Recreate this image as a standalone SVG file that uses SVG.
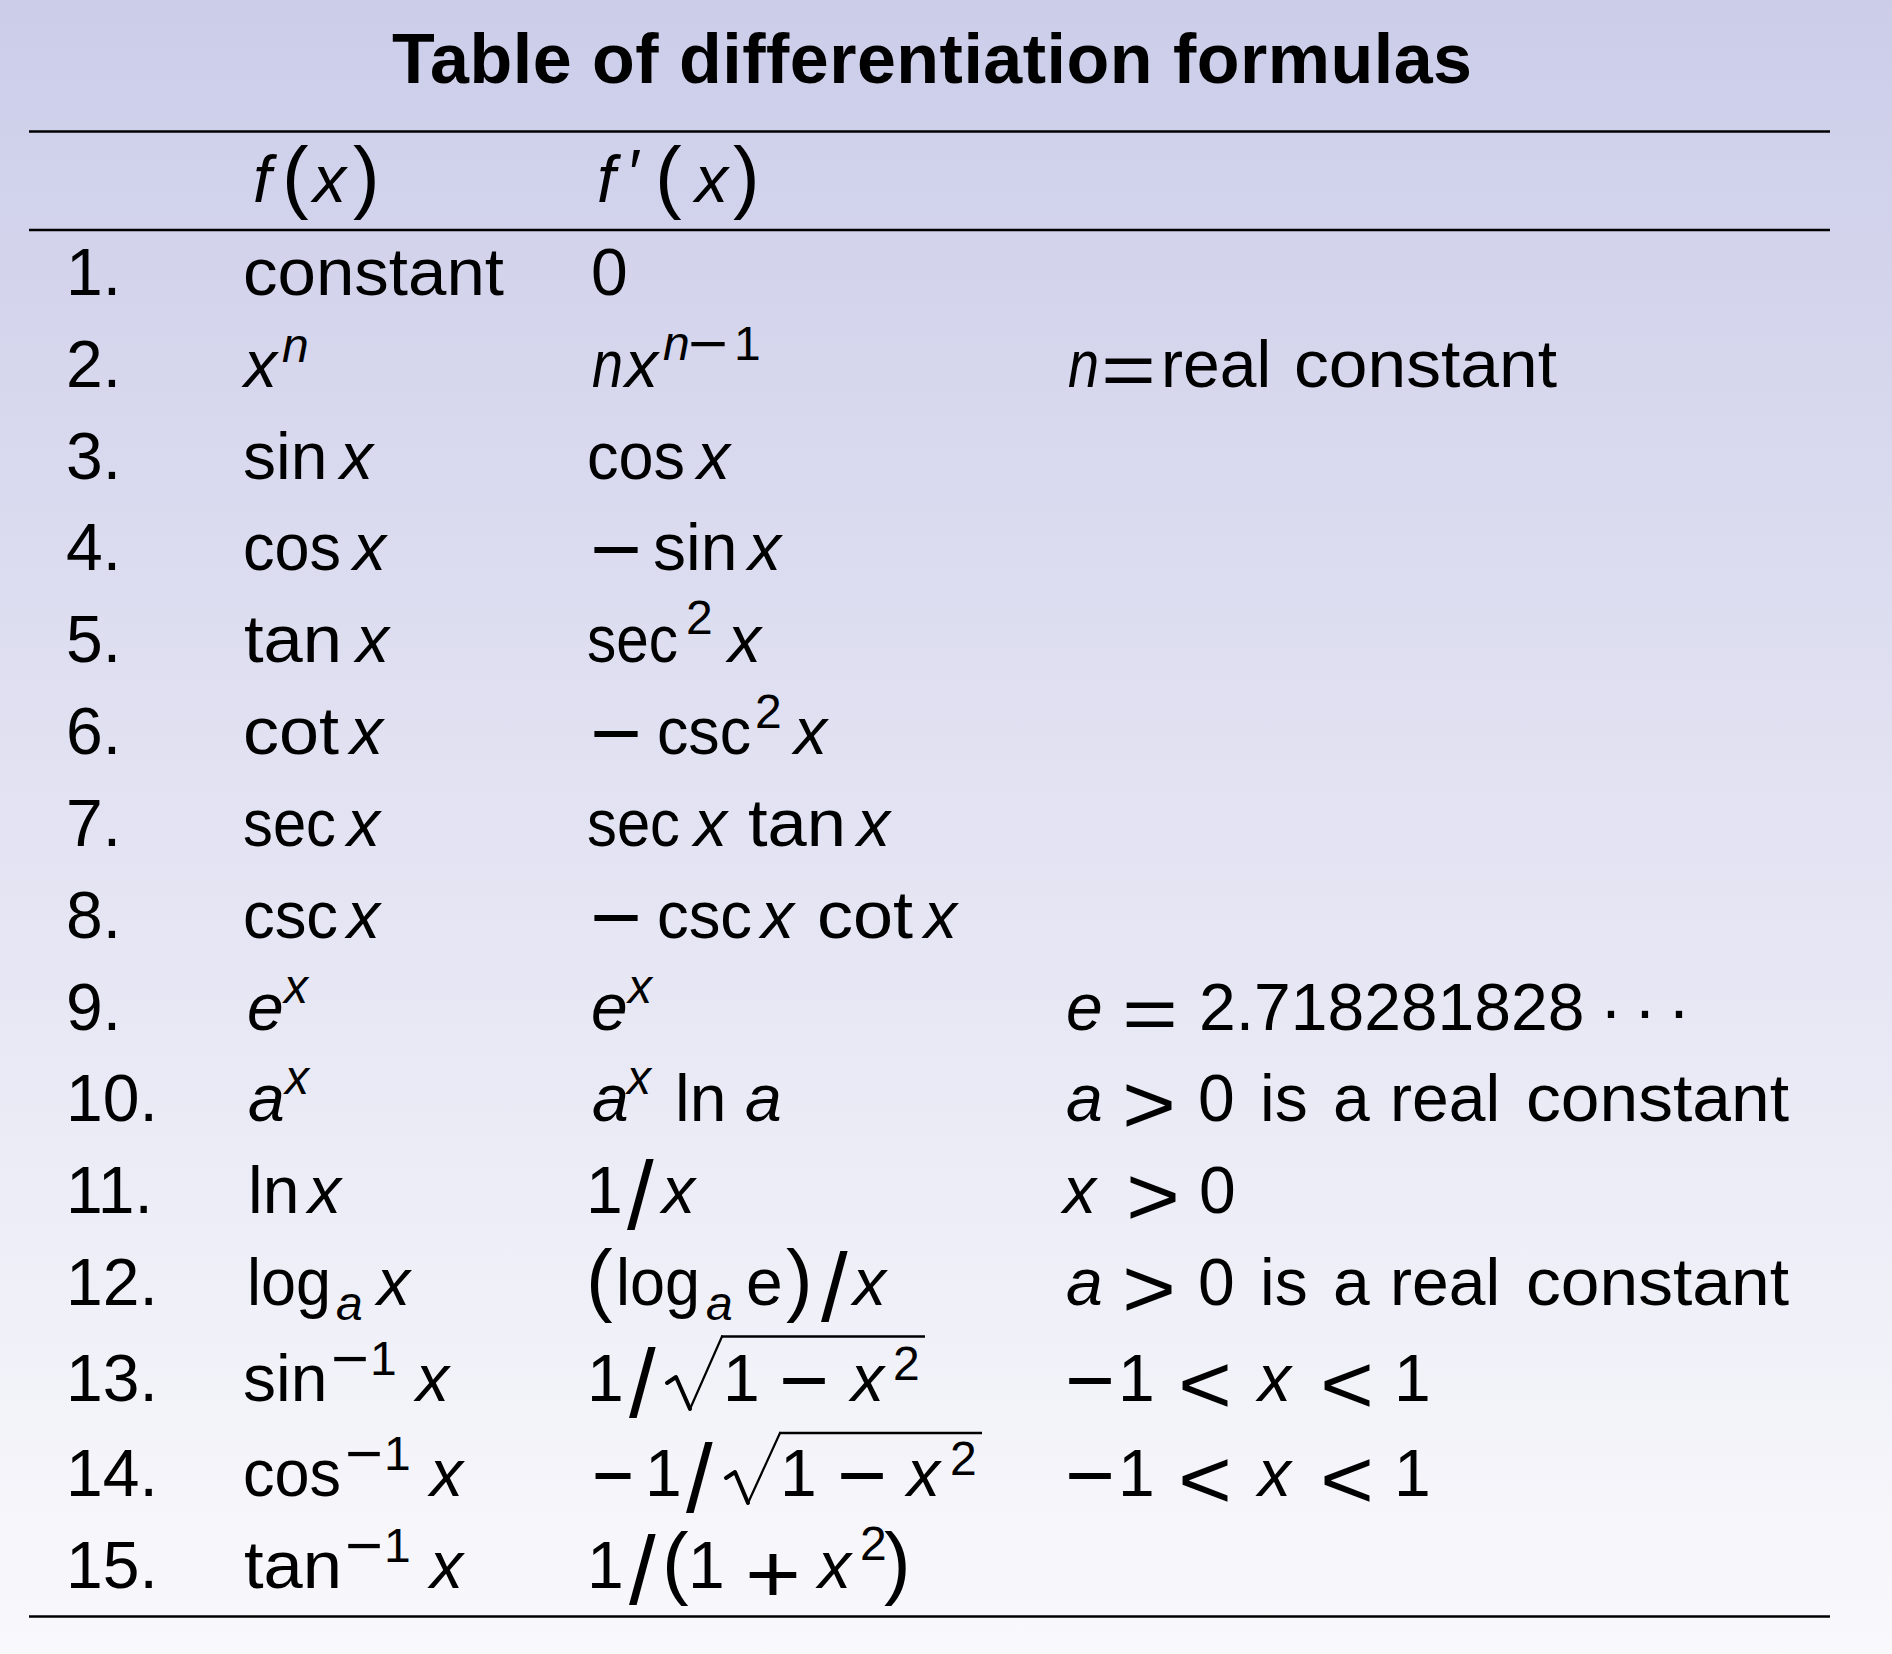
<svg xmlns="http://www.w3.org/2000/svg" width="1892" height="1654" viewBox="0 0 1892 1654">
<defs>
<linearGradient id="bg" x1="0" y1="0" x2="0" y2="1">
<stop offset="0" stop-color="#CCCDE9"/>
<stop offset="1" stop-color="#F9F9FC"/>
</linearGradient>
<style>
text{font-family:"Liberation Sans",Arial,sans-serif;font-size:66px;fill:#000}
.i{font-style:italic}
.s{font-size:48px}
.sm{font-size:60px}
.op{font-size:84px}
.eq{font-size:76px}
.sl{font-size:96px}
.pa{font-size:80px}
.title{font-size:70px;font-weight:bold}
.rule{stroke:#000;stroke-width:2.6}
.rad{fill:none;stroke:#000;stroke-linejoin:round;stroke-linecap:round}
.vin{stroke:#000;stroke-width:2.5}
</style>
</defs>
<rect x="0" y="0" width="1892" height="1654" fill="url(#bg)"/>

<g id="title">
<text class="title" x="392" y="83" textLength="1080" lengthAdjust="spacing">Table of differentiation formulas</text>
</g>

<g id="rules">
<line class="rule" x1="29" y1="131.5" x2="1830" y2="131.5"/>
<line class="rule" x1="29" y1="230" x2="1830" y2="230"/>
<line class="rule" x1="29" y1="1616.5" x2="1830" y2="1616.5"/>
</g>

<g id="header">
<text class="i" x="253" y="202">f</text>
<text class="pa" x="282" y="203">(</text>
<text class="i" x="313" y="202">x</text>
<text class="pa" x="353" y="203">)</text>
<text class="i" x="597" y="202">f</text>
<text x="629" y="196">′</text>
<text class="pa" x="655" y="203">(</text>
<text class="i" x="695" y="202">x</text>
<text class="pa" x="733" y="203">)</text>
</g>

<g id="row1">
<text x="66" y="295">1.</text>
<text x="243" y="295" textLength="261" lengthAdjust="spacingAndGlyphs">constant</text>
<text x="591" y="295">0</text>
</g>

<g id="row2">
<text x="66" y="387">2.</text>
<text class="i" x="244" y="387">x</text>
<text class="i s" x="282" y="362">n</text>
<text class="i" x="592" y="387" textLength="31" lengthAdjust="spacingAndGlyphs">n</text>
<text class="i" x="625" y="387">x</text>
<text class="i s" x="663" y="360">n</text>
<text class="sm" x="688" y="364" textLength="40" lengthAdjust="spacingAndGlyphs">−</text>
<text class="s" x="734" y="360">1</text>
<text class="i" x="1068" y="387" textLength="31" lengthAdjust="spacingAndGlyphs">n</text>
<text class="eq" x="1101" y="396" textLength="55" lengthAdjust="spacingAndGlyphs">=</text>
<text x="1161" y="387">real</text>
<text x="1294" y="387" textLength="263" lengthAdjust="spacingAndGlyphs">constant</text>
</g>

<g id="row3">
<text x="66" y="479">3.</text>
<text x="243" y="479">sin</text>
<text class="i" x="340" y="479">x</text>
<text x="587" y="479" textLength="98" lengthAdjust="spacingAndGlyphs">cos</text>
<text class="i" x="697" y="479">x</text>
</g>

<g id="row4">
<text x="66" y="570">4.</text>
<text x="243" y="570" textLength="98" lengthAdjust="spacingAndGlyphs">cos</text>
<text class="i" x="353" y="570">x</text>
<text class="op" x="590" y="578" textLength="52" lengthAdjust="spacingAndGlyphs">−</text>
<text x="653" y="570">sin</text>
<text class="i" x="748" y="570">x</text>
</g>

<g id="row5">
<text x="66" y="662">5.</text>
<text x="244" y="662" textLength="98" lengthAdjust="spacingAndGlyphs">tan</text>
<text class="i" x="356" y="662">x</text>
<text x="587" y="662" textLength="91" lengthAdjust="spacingAndGlyphs">sec</text>
<text class="s" x="686" y="634">2</text>
<text class="i" x="728" y="662">x</text>
</g>

<g id="row6">
<text x="66" y="754">6.</text>
<text x="243" y="754" textLength="96" lengthAdjust="spacingAndGlyphs">cot</text>
<text class="i" x="350" y="754">x</text>
<text class="op" x="590" y="762" textLength="52" lengthAdjust="spacingAndGlyphs">−</text>
<text x="657" y="754" textLength="94" lengthAdjust="spacingAndGlyphs">csc</text>
<text class="s" x="755" y="728">2</text>
<text class="i" x="794" y="754">x</text>
</g>

<g id="row7">
<text x="66" y="846">7.</text>
<text x="243" y="846" textLength="93" lengthAdjust="spacingAndGlyphs">sec</text>
<text class="i" x="347" y="846">x</text>
<text x="587" y="846" textLength="93" lengthAdjust="spacingAndGlyphs">sec</text>
<text class="i" x="694" y="846">x</text>
<text x="748" y="846" textLength="98" lengthAdjust="spacingAndGlyphs">tan</text>
<text class="i" x="857" y="846">x</text>
</g>

<g id="row8">
<text x="66" y="938">8.</text>
<text x="243" y="938" textLength="95" lengthAdjust="spacingAndGlyphs">csc</text>
<text class="i" x="347" y="938">x</text>
<text class="op" x="590" y="946" textLength="52" lengthAdjust="spacingAndGlyphs">−</text>
<text x="657" y="938" textLength="95" lengthAdjust="spacingAndGlyphs">csc</text>
<text class="i" x="761" y="938">x</text>
<text x="817" y="938" textLength="96" lengthAdjust="spacingAndGlyphs">cot</text>
<text class="i" x="924" y="938">x</text>
</g>

<g id="row9">
<text x="66" y="1030">9.</text>
<text class="i" x="247" y="1030">e</text>
<text class="i s" x="284" y="1003">x</text>
<text class="i" x="591" y="1030">e</text>
<text class="i s" x="628" y="1003">x</text>
<text class="i" x="1066" y="1030">e</text>
<text class="eq" x="1122" y="1040" textLength="56" lengthAdjust="spacingAndGlyphs">=</text>
<text x="1199" y="1030">2.718281828</text>
<text x="1600" y="1033">·</text>
<text x="1634" y="1033">·</text>
<text x="1668" y="1033">·</text>
</g>

<g id="row10">
<text x="66" y="1121">10.</text>
<text class="i" x="248" y="1121">a</text>
<text class="i s" x="285" y="1094">x</text>
<text class="i" x="592" y="1121">a</text>
<text class="i s" x="627" y="1094">x</text>
<text x="675" y="1121">ln</text>
<text class="i" x="745" y="1121">a</text>
<text class="i" x="1066" y="1121">a</text>
<text class="op" x="1122" y="1133" textLength="54" lengthAdjust="spacingAndGlyphs">&gt;</text>
<text x="1198" y="1121">0</text>
<text x="1260" y="1121">is</text>
<text x="1333" y="1121">a</text>
<text x="1390" y="1121">real</text>
<text x="1526" y="1121" textLength="263" lengthAdjust="spacingAndGlyphs">constant</text>
</g>

<g id="row11">
<text x="66" y="1213">11.</text>
<text x="248" y="1213">ln</text>
<text class="i" x="308" y="1213">x</text>
<text x="586" y="1213">1</text>
<text class="sl" x="627" y="1229">/</text>
<text class="i" x="662" y="1213">x</text>
<text class="i" x="1063" y="1213">x</text>
<text class="op" x="1126" y="1225" textLength="54" lengthAdjust="spacingAndGlyphs">&gt;</text>
<text x="1199" y="1213">0</text>
</g>

<g id="row12">
<text x="66" y="1305">12.</text>
<text x="247" y="1305" textLength="84" lengthAdjust="spacingAndGlyphs">log</text>
<text class="i s" x="336" y="1320">a</text>
<text class="i" x="377" y="1305">x</text>
<text class="pa" x="586" y="1306">(</text>
<text x="616" y="1305" textLength="84" lengthAdjust="spacingAndGlyphs">log</text>
<text class="i s" x="706" y="1320">a</text>
<text x="746" y="1305">e</text>
<text class="pa" x="786" y="1306">)</text>
<text class="sl" x="821" y="1321">/</text>
<text class="i" x="853" y="1305">x</text>
<text class="i" x="1066" y="1305">a</text>
<text class="op" x="1122" y="1317" textLength="54" lengthAdjust="spacingAndGlyphs">&gt;</text>
<text x="1198" y="1305">0</text>
<text x="1260" y="1305">is</text>
<text x="1333" y="1305">a</text>
<text x="1390" y="1305">real</text>
<text x="1526" y="1305" textLength="263" lengthAdjust="spacingAndGlyphs">constant</text>
</g>

<g id="row13">
<text x="66" y="1401">13.</text>
<text x="243" y="1401">sin</text>
<text class="sm" x="331" y="1379" textLength="38" lengthAdjust="spacingAndGlyphs">−</text>
<text class="s" x="370" y="1375">1</text>
<text class="i" x="416" y="1401">x</text>
<text x="587" y="1401">1</text>
<text class="sl" x="629" y="1417">/</text>
<path class="rad" stroke-width="4" d="M667,1383 L676,1377 L690,1409"/>
<path class="rad" stroke-width="2.2" d="M690,1409 L722,1336.5"/>
<line class="vin" x1="721" y1="1336.5" x2="925" y2="1336.5"/>
<text x="723" y="1401">1</text>
<text class="op" x="779" y="1409" textLength="50" lengthAdjust="spacingAndGlyphs">−</text>
<text class="i" x="851" y="1401">x</text>
<text class="s" x="893" y="1380">2</text>
<text class="op" x="1065" y="1409" textLength="50" lengthAdjust="spacingAndGlyphs">−</text>
<text x="1118" y="1401">1</text>
<text class="op" x="1178" y="1413" textLength="54" lengthAdjust="spacingAndGlyphs">&lt;</text>
<text class="i" x="1258" y="1401">x</text>
<text class="op" x="1320" y="1413" textLength="54" lengthAdjust="spacingAndGlyphs">&lt;</text>
<text x="1394" y="1401">1</text>
</g>

<g id="row14">
<text x="66" y="1496">14.</text>
<text x="243" y="1496" textLength="98" lengthAdjust="spacingAndGlyphs">cos</text>
<text class="sm" x="345" y="1474" textLength="38" lengthAdjust="spacingAndGlyphs">−</text>
<text class="s" x="384" y="1470">1</text>
<text class="i" x="430" y="1496">x</text>
<text class="op" x="592" y="1504" textLength="42" lengthAdjust="spacingAndGlyphs">−</text>
<text x="645" y="1496">1</text>
<text class="sl" x="686" y="1512">/</text>
<path class="rad" stroke-width="4" d="M726,1478 L735,1472 L748,1503"/>
<path class="rad" stroke-width="2.2" d="M748,1503 L780,1433"/>
<line class="vin" x1="779" y1="1433" x2="982" y2="1433"/>
<text x="780" y="1496">1</text>
<text class="op" x="837" y="1504" textLength="50" lengthAdjust="spacingAndGlyphs">−</text>
<text class="i" x="907" y="1496">x</text>
<text class="s" x="950" y="1475">2</text>
<text class="op" x="1065" y="1504" textLength="50" lengthAdjust="spacingAndGlyphs">−</text>
<text x="1118" y="1496">1</text>
<text class="op" x="1178" y="1508" textLength="54" lengthAdjust="spacingAndGlyphs">&lt;</text>
<text class="i" x="1258" y="1496">x</text>
<text class="op" x="1320" y="1508" textLength="54" lengthAdjust="spacingAndGlyphs">&lt;</text>
<text x="1394" y="1496">1</text>
</g>

<g id="row15">
<text x="66" y="1588">15.</text>
<text x="244" y="1588" textLength="98" lengthAdjust="spacingAndGlyphs">tan</text>
<text class="sm" x="345" y="1566" textLength="38" lengthAdjust="spacingAndGlyphs">−</text>
<text class="s" x="384" y="1562">1</text>
<text class="i" x="430" y="1588">x</text>
<text x="587" y="1588">1</text>
<text class="sl" x="629" y="1604">/</text>
<text class="pa" x="662" y="1589">(</text>
<text x="688" y="1588">1</text>
<text class="op" x="745" y="1602" textLength="56" lengthAdjust="spacingAndGlyphs">+</text>
<text class="i" x="818" y="1588">x</text>
<text class="s" x="860" y="1560">2</text>
<text class="pa" x="884" y="1589">)</text>
</g>
</svg>
